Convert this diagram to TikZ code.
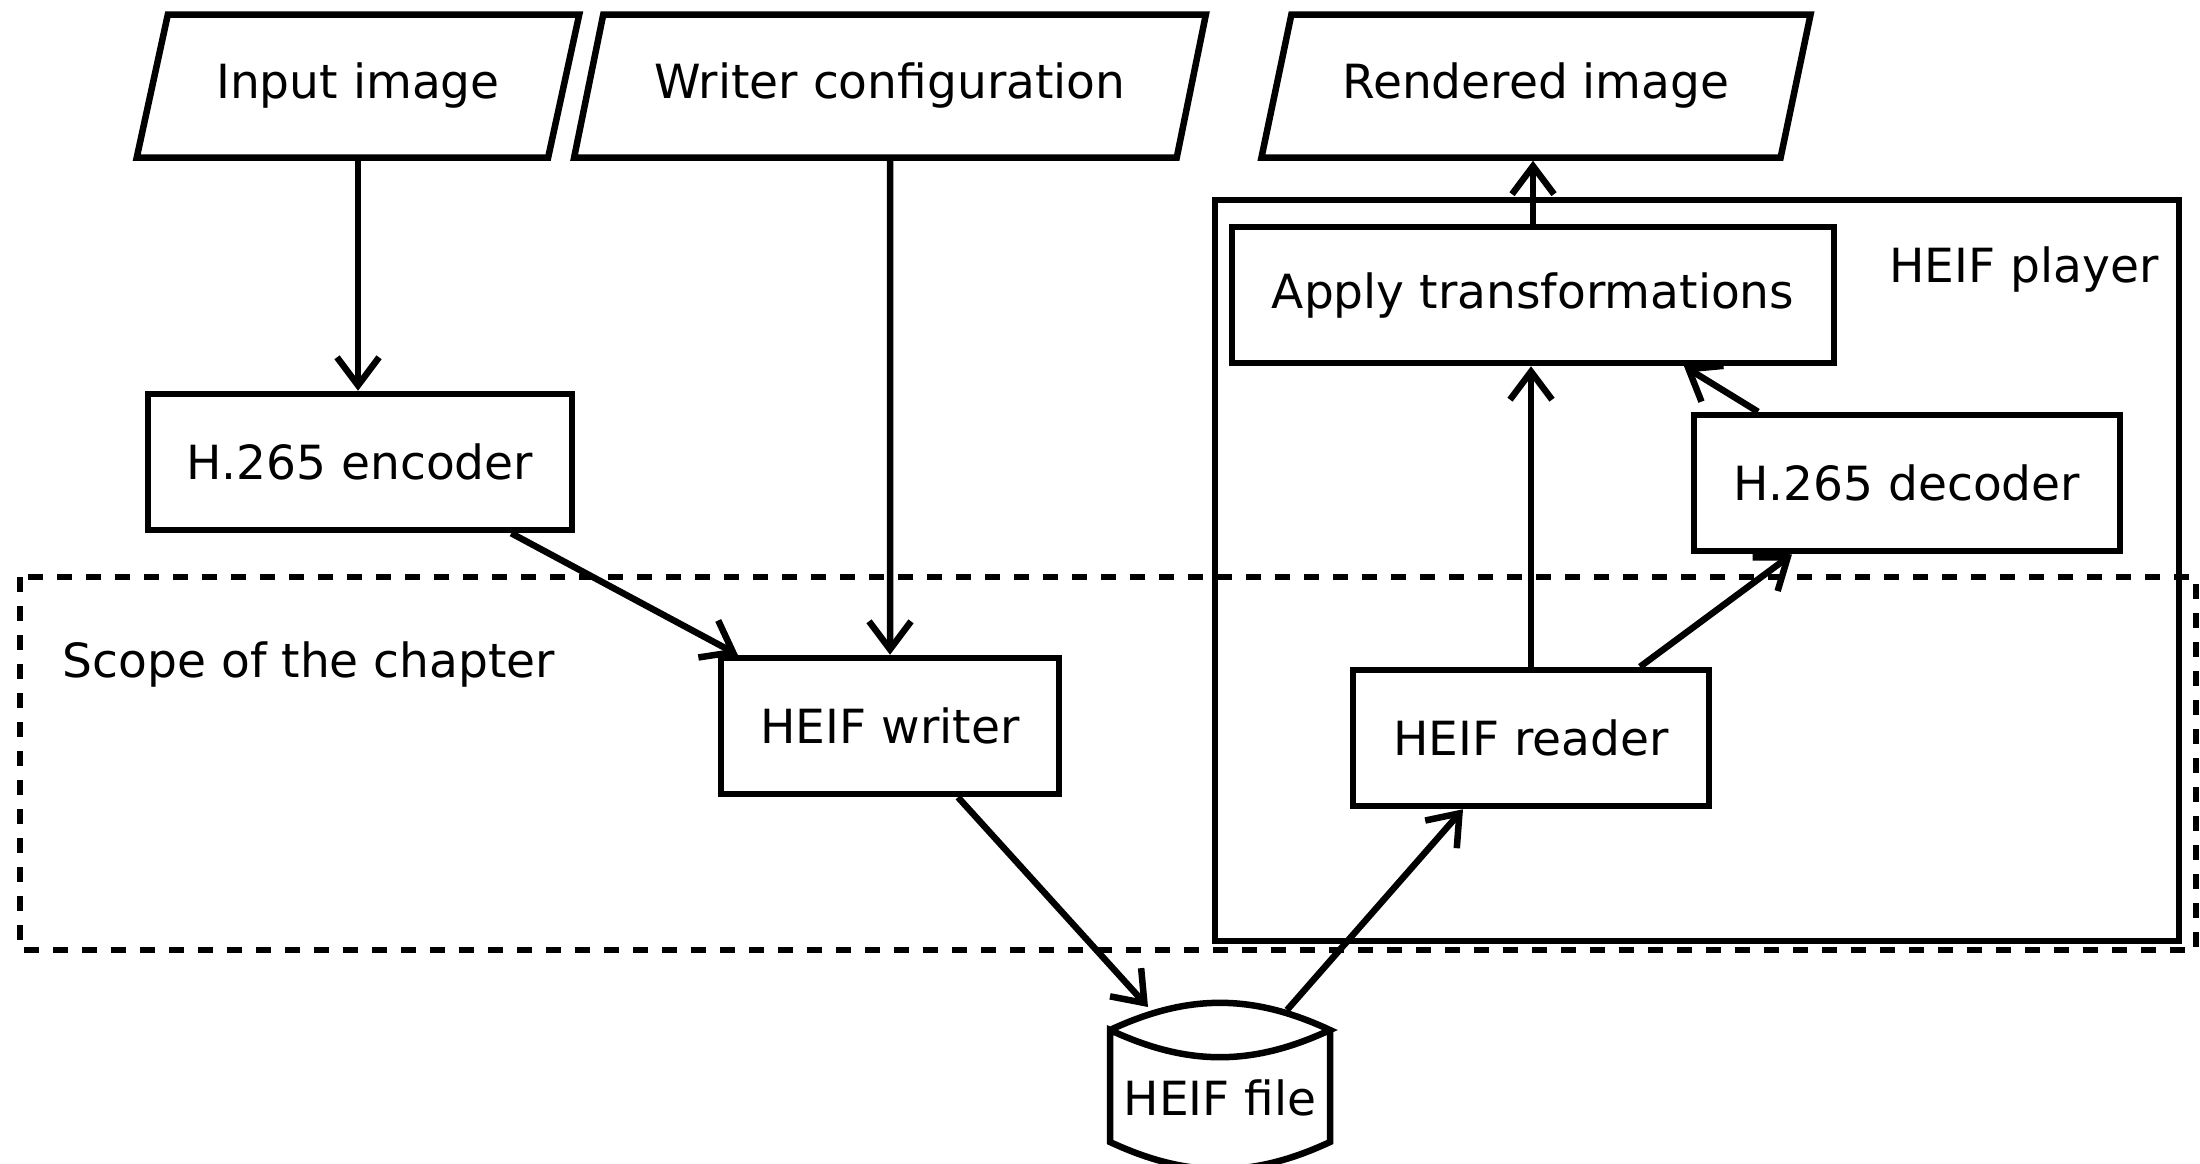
\documentclass[tikz,border=0pt]{standalone}
\usepackage{fontspec}
\setmainfont{DejaVu Sans}
\usetikzlibrary{shapes, positioning, calc, arrows.meta}

\begin{document}
\begin{tikzpicture}[every node/.style={font=\fontsize{13.4}{16}\selectfont}]
  \newcommand\linew{1.85pt}
  \newcommand\boxheight{1.36cm}
  \newcommand\toprow{-0.86}

  \tikzset{ptr/.style={-{Straight Barb[length=0.28cm, width=0.42cm]}, line width=\linew}}
  \tikzset{procbox/.style={draw, line width=\linew, minimum height=\boxheight}}
  \tikzset{ioentry/.style={procbox, trapezium, trapezium left angle=70, trapezium right angle=110, trapezium stretches=true, minimum height=1.43cm}}
  \tikzset{playerframe/.style={draw, line width=\linew}}
  \tikzset{scopeframe/.style={playerframe, dash pattern=on 0.145cm off 0.145cm}}

  \useasboundingbox (0,0) rectangle (22,-11.63);

  % frames behind everything
  \draw[scopeframe] (0.2,-5.77) rectangle (21.96,-9.5);
  \draw[playerframe] (12.15,-2.0) rectangle (21.79,-9.41);
  \node (scopelbl) at (3.09,-6.64) {Scope of the chapter};
  \node (playerlbl) at (20.24,-2.69) {HEIF player};

  % inputs and output
  \node[ioentry, minimum width=4.43cm] at (3.58, \toprow) (inimg) {Input image};
  \node[ioentry, minimum width=6.33cm] at (8.9, \toprow) (wconf) {Writer configuration};
  \node[ioentry, minimum width=5.5cm] at (15.36, \toprow) (rimg) {Rendered image};

  % processing steps
  \node[procbox, minimum width=4.24cm] at (3.6, -4.62) (enc) {H.265 encoder};
  \node[procbox, minimum width=3.38cm] at (8.9, -7.26) (hwriter) {HEIF writer};
  \node[procbox, minimum width=3.56cm] at (15.31, -7.38) (hreader) {HEIF reader};
  \node[procbox, minimum width=6.02cm] at (15.33, -2.95) (apply) {Apply transformations};
  \node[procbox, minimum width=4.26cm] at (19.07, -4.83) (dec) {H.265 decoder};

  % the stored file
  \node at (12.2, -10.98) (hfile) {HEIF file};
  \coordinate (hfile-nw) at ([shift={(-1.1,0.68)}]hfile.center);
  \coordinate (hfile-ne) at ([shift={(1.1,0.68)}]hfile.center);
  \coordinate (hfile-sw) at ([shift={(-1.1,-0.44)}]hfile.center);
  \coordinate (hfile-se) at ([shift={(1.1,-0.44)}]hfile.center);
  \coordinate (hfile-in) at ([shift={(-0.72,0.91)}]hfile.center);
  \coordinate (hfile-out) at ([shift={(0.67,0.88)}]hfile.center);
  \draw[playerframe] (hfile-nw) to[bend left=25] (hfile-ne) to[bend left=25] (hfile-nw)
    -- (hfile-sw) to[bend right=25] (hfile-se) -- (hfile-ne);

  % writer side
  \draw[ptr] (inimg.south) -- (inimg.south |- enc.north);
  \draw[ptr] (wconf.south) -- (hwriter.north);
  \draw[ptr] ([xshift=-0.64cm]enc.south east) -- ([xshift=0.2cm]hwriter.north west);
  \draw[ptr] ([xshift=0.68cm]hwriter.south) -- (hfile-in);

  % player side
  \draw[ptr] (hfile-out) -- ([xshift=-0.68cm]hreader.south);
  \draw[ptr] (hreader.north) -- (hreader.north |- apply.south);
  \draw[ptr] ([xshift=1.09cm]hreader.north) -- ([xshift=-1.15cm]dec.south);
  \draw[ptr] ([xshift=-1.49cm]dec.north) -- ([xshift=1.51cm]apply.south);
  \draw[ptr] (apply.north) -- (apply.north |- rimg.south);
\end{tikzpicture}
\end{document}
